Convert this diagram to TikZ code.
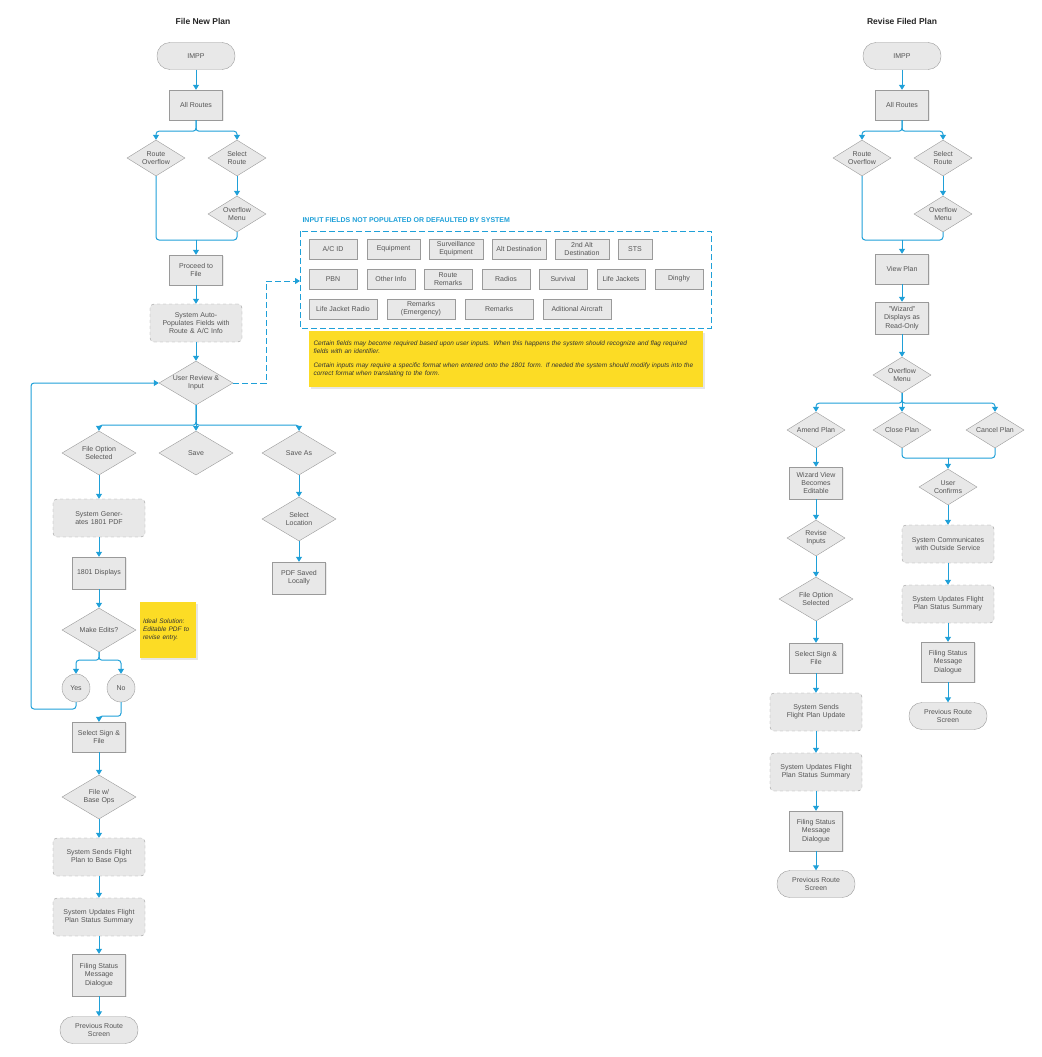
\documentclass[tikz,border=0pt]{standalone}
\usepackage{fontspec}
\setmainfont{Liberation Sans}
\usetikzlibrary{shapes.geometric,arrows.meta,shadows}
\definecolor{ln}{HTML}{1FA0D8}
\definecolor{bx}{HTML}{E8E8E8}
\definecolor{bd}{HTML}{9A9A9A}
\definecolor{tx}{HTML}{555555}
\definecolor{yl}{HTML}{FCDC25}
\begin{document}
\begin{tikzpicture}[x=1pt,y=-1pt,
  every node/.style={font=\fontsize{7}{8.2}\selectfont,text=tx,align=center},
  txt/.style={font=\fontsize{7}{8.2}\selectfont,text=tx,align=center},
  rbox/.style={rectangle,draw=bd,fill=bx,minimum width=53pt,minimum height=30pt,inner sep=1pt,drop shadow={opacity=0.15,shadow xshift=1pt,shadow yshift=-1pt}},
  dbox/.style={rectangle,draw=bd,dashed,rounded corners=4pt,fill=bx,minimum width=92pt,minimum height=38pt,inner sep=1pt,text width=88pt},
  term/.style={rectangle,draw=bd,fill=bx,rounded corners=13pt,minimum width=78pt,minimum height=27pt},
  dia/.style={diamond,draw=bd,fill=bx,inner sep=0pt,minimum width=58pt,minimum height=36pt},
  bdia/.style={dia,minimum width=74pt,minimum height=44pt},
  circ/.style={circle,draw=bd,fill=bx,minimum size=28pt,inner sep=0pt},
  fld/.style={rectangle,draw=bd,fill=bx,minimum height=20pt,inner sep=1pt},
  con/.style={draw=ln,line width=1pt,rounded corners=3pt},
  arr/.style={con,-{Triangle[width=6pt,length=5pt]}},
  ttl/.style={font=\bfseries\fontsize{8.5}{10}\selectfont,text=black!85}
]
\useasboundingbox (0,0) rectangle (1041,1057);
%%%%%%%%% LEFT
\node[ttl] (t1) at (203,21) {File New Plan};
\node[term] (impp) at (196,56) {IMPP};
\node[rbox] (ar) at (196,105) {All Routes};
\node[dia,label={[txt]center:Route\\Overflow}] (ro) at (156,158) {};
\node[dia,label={[txt]center:Select\\Route}] (sr) at (237,158) {};
\node[dia,label={[txt]center:Overflow\\Menu}] (om) at (237,214) {};
\node[rbox] (pf) at (196,270) {Proceed to\\File};
\node[dbox] (sap) at (196,323) {System Auto-Populates Fields with Route \& A/C Info};
\node[bdia,label={[txt]center:User Review \&\\Input}] (ur) at (196,383) {};
\node[bdia,label={[txt]center:File Option\\Selected}] (fo) at (99,453) {};
\node[bdia,label={[txt]center:Save}] (sv) at (196,453) {};
\node[bdia,label={[txt]center:Save As}] (sa) at (299,453) {};
\node[bdia,label={[txt]center:Select\\Location}] (sl) at (299,519) {};
\node[rbox,minimum height=32pt] (ps) at (299,578) {PDF Saved\\Locally};
\node[dbox] (sg) at (99,518) {System Generates 1801 PDF};
\node[rbox,minimum height=32pt] (d18) at (99,573) {1801 Displays};
\node[bdia,label={[txt]center:Make Edits?}] (me) at (99,630) {};
\node[circ] (yes) at (76,688) {Yes};
\node[circ] (no) at (121,688) {No};
\node[rbox] (ssf) at (99,737) {Select Sign \&\\File};
\node[bdia,label={[txt]center:File w/\\Base Ops}] (fb) at (99,797) {};
\node[dbox] (ssb) at (99,857) {System Sends Flight Plan to Base Ops};
\node[dbox] (sus) at (99,917) {System Updates Flight Plan Status Summary};
\node[rbox,minimum height=42pt] (fs) at (99,975) {Filing Status\\Message\\Dialogue};
\node[term] (prs) at (99,1030) {Previous Route\\Screen};
\node[fill=yl,minimum width=56pt,minimum height=56pt,text width=50pt,align=left,text=black!80,font=\itshape\fontsize{6.5}{7.8}\selectfont,drop shadow={opacity=0.2,shadow xshift=1.5pt,shadow yshift=-1.5pt}] (n1) at (168,630) {Ideal Solution: Editable PDF to revise entry.};

\draw[arr] (impp) -- (ar);
\draw[arr] (ar.south) -- ++(0,11) -| (ro.north);
\draw[arr] (ar.south) -- ++(0,11) -| (sr.north);
\draw[arr] (sr) -- (om);
\coordinate (m1) at (196,240);
\draw[con] (ro.south) |- (m1);
\draw[con] (om.south) |- (m1);
\draw[arr] (m1) -- (pf.north);
\draw[arr] (pf) -- (sap);
\draw[arr] (sap) -- (ur);
\draw[arr] (ur.south) -- ++(0,20) -| (fo.north);
\draw[arr] (ur.south) -- (sv.north);
\draw[arr] (ur.south) -- ++(0,20) -| (sa.north);
\draw[arr] (sa) -- (sl);
\draw[arr] (sl) -- (ps);
\draw[arr] (fo) -- (sg);
\draw[arr] (sg) -- (d18);
\draw[arr] (d18) -- (me);
\draw[arr] (me.south) -- ++(0,8) -| (yes.north);
\draw[arr] (me.south) -- ++(0,8) -| (no.north);
\coordinate (lp) at (31,709);
\draw[arr] (yes.south) |- (lp) |- (ur.west);
\draw[arr] (no.south) -- ++(0,14) -| (ssf.north);
\draw[arr] (ssf) -- (fb);
\draw[arr] (fb) -- (ssb);
\draw[arr] (ssb) -- (sus);
\draw[arr] (sus) -- (fs);
\draw[arr] (fs) -- (prs);

%%%%%%%%% INPUT FIELDS
\node[anchor=west,font=\bfseries\fontsize{7}{8}\selectfont,text=ln] (ift) at (299,220) {INPUT FIELDS NOT POPULATED OR DEFAULTED BY SYSTEM};
\draw[draw=ln,dashed,line width=0.8pt,dash pattern=on 6pt off 3pt] (300,231) rectangle (711,328);
\coordinate (ifb) at (300,281);
\draw[arr,dashed,dash pattern=on 6pt off 3pt,rounded corners=0pt] (ur.east) -| (266,281) -- (ifb);
\foreach \t/\a/\b/\y/\n in {{A/C ID}/309/357/249/f1, Equipment/367/420/249/f2, Surveillance\\Equipment/429/483/249/f3, Alt Destination/492/546/249/f4, 2nd Alt\\Destination/555/609/249/f5, STS/618/652/249/f6,
  PBN/309/357/279/f7, Other Info/367/415/279/f8, Route\\Remarks/424/472/279/f9, Radios/482/530/279/f10, Survival/539/587/279/f11, Life Jackets/597/645/279/f12, Dinghy/655/703/279/f13,
  Life Jacket Radio/309/377/309/f14, Remarks\\(Emergency)/387/455/309/f15, Remarks/465/533/309/f16, Aditional Aircraft/543/611/309/f17}
  \node[fld,minimum width={\b-\a}] (\n) at ({(\a+\b)/2},\y) {\t};
\node[fill=yl,minimum width=394pt,minimum height=56pt,text width=385pt,align=left,text=black!80,font=\itshape\fontsize{6.5}{7.8}\selectfont,drop shadow={opacity=0.2,shadow xshift=1.5pt,shadow yshift=-1.5pt}] (n2) at (506,359) {Certain fields may become required based upon user inputs. When this happens the system should recognize and flag required fields with an identifier.\\[6pt]Certain inputs may require a specific format when entered onto the 1801 form. If needed the system should modify inputs into the correct format when translating to the form.};

%%%%%%%%% RIGHT
\node[ttl] (t2) at (902,21) {Revise Filed Plan};
\node[term] (rimpp) at (902,56) {IMPP};
\node[rbox] (rar) at (902,105) {All Routes};
\node[dia,label={[txt]center:Route\\Overflow}] (rro) at (862,158) {};
\node[dia,label={[txt]center:Select\\Route}] (rsr) at (943,158) {};
\node[dia,label={[txt]center:Overflow\\Menu}] (rom) at (943,214) {};
\node[rbox] (vp) at (902,269) {View Plan};
\node[rbox,minimum height=32pt] (wz) at (902,318) {"Wizard"\\Displays as\\Read-Only};
\node[dia,label={[txt]center:Overflow\\Menu}] (rom2) at (902,375) {};
\node[dia,label={[txt]center:Amend Plan}] (amp) at (816,430) {};
\node[dia,label={[txt]center:Close Plan}] (clp) at (902,430) {};
\node[dia,label={[txt]center:Cancel Plan}] (cap) at (995,430) {};
\node[dia,label={[txt]center:User\\Confirms}] (uc) at (948,487) {};
\node[dbox] (sco) at (948,544) {System Communicates with Outside Service};
\node[dbox] (rsu) at (948,604) {System Updates Flight Plan Status Summary};
\node[rbox,minimum height=40pt] (rfs) at (948,662) {Filing Status\\Message\\Dialogue};
\node[term] (rprs) at (948,716) {Previous Route\\Screen};
\node[rbox,minimum height=32pt] (wve) at (816,483) {Wizard View\\Becomes\\Editable};
\node[dia,label={[txt]center:Revise\\Inputs}] (ri) at (816,538) {};
\node[bdia,label={[txt]center:File Option\\Selected}] (rfo) at (816,599) {};
\node[rbox] (rssf) at (816,658) {Select Sign \&\\File};
\node[dbox] (ssu) at (816,712) {System Sends Flight Plan Update};
\node[dbox] (rsu2) at (816,772) {System Updates Flight Plan Status Summary};
\node[rbox,minimum height=40pt] (rfs2) at (816,831) {Filing Status\\Message\\Dialogue};
\node[term] (rprs2) at (816,884) {Previous Route\\Screen};

\draw[arr] (rimpp) -- (rar);
\draw[arr] (rar.south) -- ++(0,11) -| (rro.north);
\draw[arr] (rar.south) -- ++(0,11) -| (rsr.north);
\draw[arr] (rsr) -- (rom);
\coordinate (m2) at (902,240);
\draw[con] (rro.south) |- (m2);
\draw[con] (rom.south) |- (m2);
\draw[arr] (m2) -- (vp.north);
\draw[arr] (vp) -- (wz);
\draw[arr] (wz) -- (rom2);
\draw[arr] (rom2.south) -- ++(0,10) -| (amp.north);
\draw[arr] (rom2.south) -- (clp.north);
\draw[arr] (rom2.south) -- ++(0,10) -| (cap.north);
\coordinate (m3) at (948,458);
\draw[con] (clp.south) |- (m3);
\draw[con] (cap.south) |- (m3);
\draw[arr] (m3) -- (uc.north);
\draw[arr] (uc) -- (sco);
\draw[arr] (sco) -- (rsu);
\draw[arr] (rsu) -- (rfs);
\draw[arr] (rfs) -- (rprs);
\draw[arr] (amp) -- (wve);
\draw[arr] (wve) -- (ri);
\draw[arr] (ri) -- (rfo);
\draw[arr] (rfo) -- (rssf);
\draw[arr] (rssf) -- (ssu);
\draw[arr] (ssu) -- (rsu2);
\draw[arr] (rsu2) -- (rfs2);
\draw[arr] (rfs2) -- (rprs2);
\end{tikzpicture}
\end{document}
